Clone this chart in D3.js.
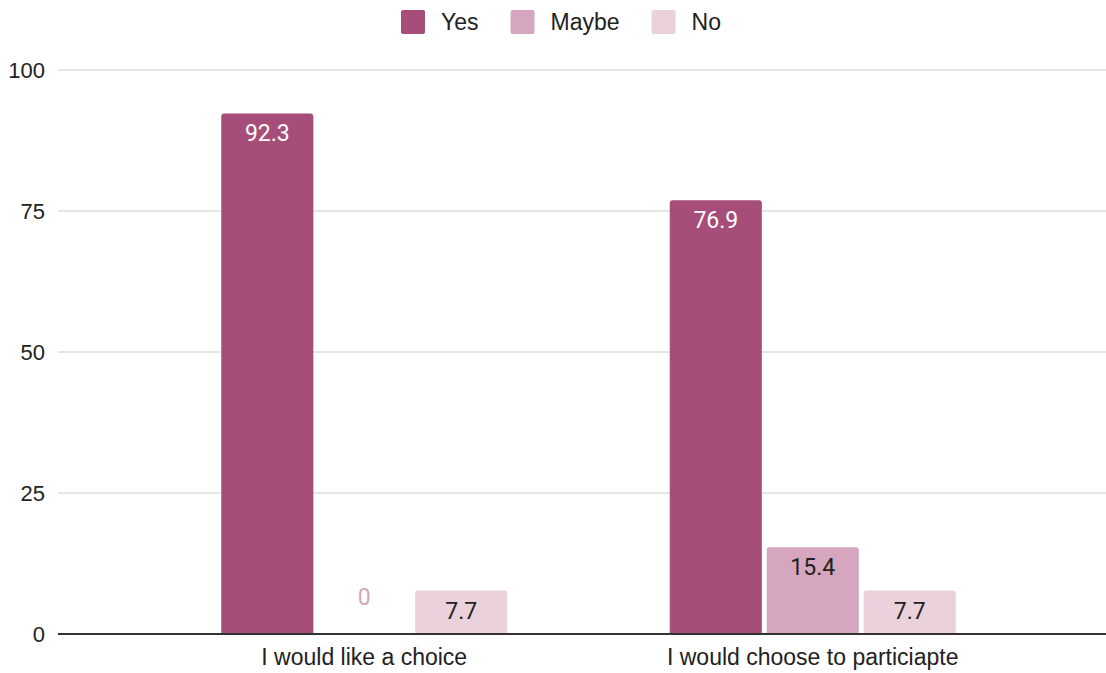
<!DOCTYPE html>
<html>
<head>
<meta charset="utf-8">
<script src="https://cdn.jsdelivr.net/npm/d3@7"></script>
<style>
  html, body { margin: 0; padding: 0; background: #fff; }
  svg { display: block; }
</style>
</head>
<body>
<svg id="chart" width="1106" height="673"></svg>
<script>
const categories = ["I would like a choice", "I would choose to particiapte"];
const seriesNames = ["Yes", "Maybe", "No"];
const yesValues = [92.3, 76.9];
const maybeValues = [0, 15.4];
const noValues = [7.7, 7.7];
const yTicks = [0, 25, 50, 75, 100];
const seriesColors = ["#a64d79", "#d5a6bd", "#ead1dc"];
const labelColors = ["#ffffff", "#222222", "#222222"];

const seriesValues = [yesValues, maybeValues, noValues];
const rows = [];
categories.forEach((c, ci) => {
  seriesNames.forEach((s, si) => {
    rows.push({ category: c, series: s, si, value: seriesValues[si][ci] });
  });
});

const svg = d3.select("#chart");
const axisFont = "'Liberation Sans', Arial, sans-serif";
const labelFont = "Roboto, 'Liberation Sans', sans-serif";

const gridLeft = 58, gridRight = 1106;
const y = d3.scaleLinear().domain([0, 100]).range([634, 70]);
const x0 = d3.scaleBand().domain(categories).range([140, 1037]).paddingInner(0).paddingOuter(0);
const groupWidth = 286;
const x1 = d3.scaleBand().domain(seriesNames).range([0, groupWidth]).paddingInner(0.05).paddingOuter(0);

// gridlines
svg.append("g").selectAll("line").data(yTicks.filter(t => t !== 0)).join("line")
  .attr("x1", gridLeft).attr("x2", gridRight)
  .attr("y1", d => y(d)).attr("y2", d => y(d))
  .attr("stroke", "#cccccc").attr("stroke-width", 1);

// y tick labels
svg.append("g").selectAll("text").data(yTicks).join("text")
  .attr("x", 45).attr("y", d => y(d)).attr("dy", "0.35em")
  .attr("text-anchor", "end")
  .attr("font-family", axisFont).attr("font-size", 22).attr("fill", "#222")
  .text(d => d);

// bars with rounded top corners
function barPath(x, yTop, w, yBase, r) {
  const h = yBase - yTop;
  if (h <= 0) return "";
  r = Math.min(r, h, w / 2);
  return `M${x},${yBase}V${yTop + r}Q${x},${yTop} ${x + r},${yTop}H${x + w - r}Q${x + w},${yTop} ${x + w},${yTop + r}V${yBase}Z`;
}
const bx = d => x0(d.category) + (x0.bandwidth() - groupWidth) / 2 + x1(d.series);

svg.append("g").selectAll("path").data(rows).join("path")
  .attr("d", d => barPath(bx(d), y(d.value), x1.bandwidth(), y(0), 3))
  .attr("fill", d => seriesColors[d.si]);

// data labels
svg.append("g").selectAll("text").data(rows).join("text")
  .attr("x", d => bx(d) + x1.bandwidth() / 2)
  .attr("y", d => d.value < 3 ? y(d.value) - 29 : y(d.value) + 28)
  .attr("text-anchor", "middle")
  .attr("font-family", labelFont).attr("font-size", 23)
  .attr("fill", d => d.value < 3 ? seriesColors[d.si] : labelColors[d.si])
  .text(d => d.value);

// baseline
svg.append("line")
  .attr("x1", gridLeft).attr("x2", gridRight)
  .attr("y1", y(0)).attr("y2", y(0))
  .attr("stroke", "#333").attr("stroke-width", 2);

// category labels
svg.append("g").selectAll("text").data(categories).join("text")
  .attr("x", d => x0(d) + x0.bandwidth() / 2).attr("y", 665)
  .attr("text-anchor", "middle")
  .attr("font-family", axisFont).attr("font-size", 23).attr("fill", "#222")
  .text(d => d);

// legend
const legend = svg.append("g");
let lx = 401;
seriesNames.forEach((s, i) => {
  legend.append("rect").attr("x", lx).attr("y", 10).attr("width", 24).attr("height", 24)
    .attr("rx", 2).attr("fill", seriesColors[i]);
  const t = legend.append("text").attr("x", lx + 40).attr("y", 30)
    .attr("font-family", axisFont).attr("font-size", 23).attr("fill", "#222").text(s);
  lx += 40 + t.node().getComputedTextLength() + 32;
});
</script>
</body>
</html>
